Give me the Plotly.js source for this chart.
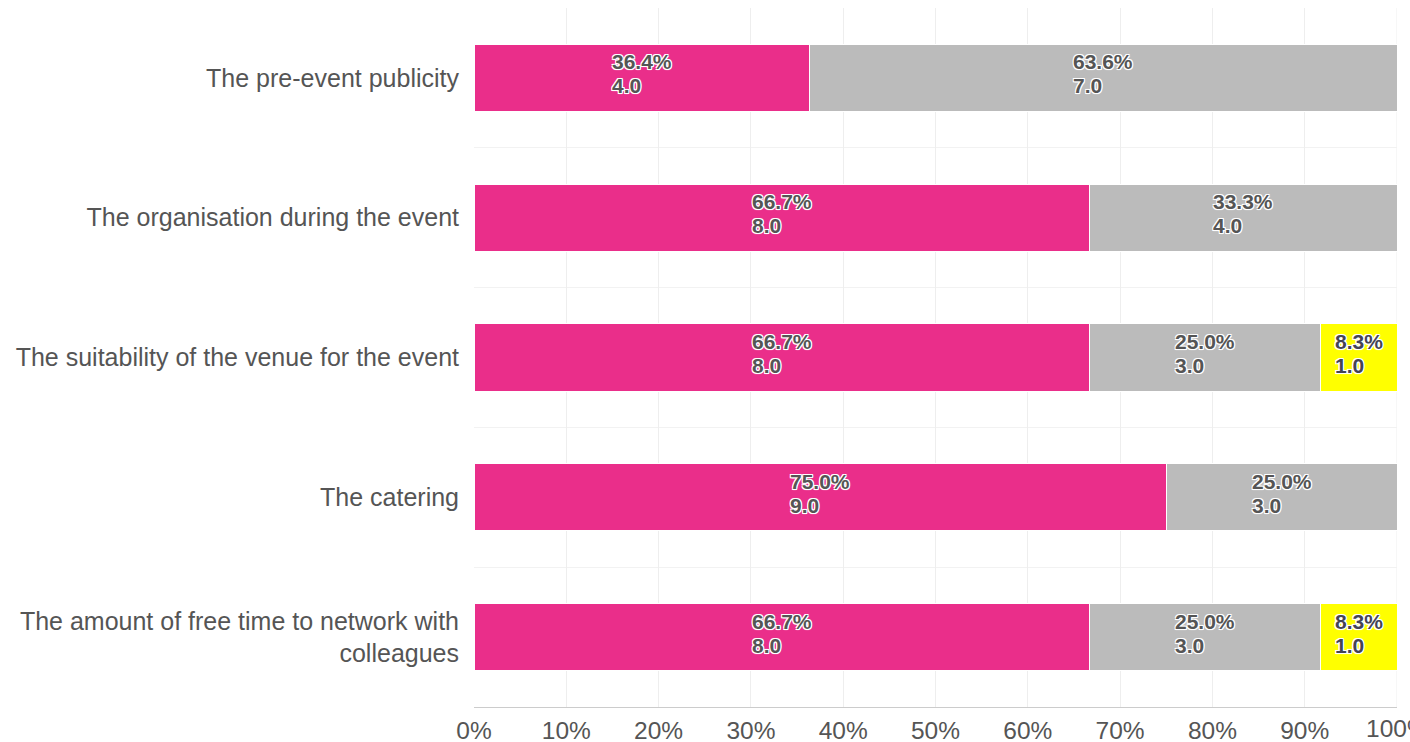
<!DOCTYPE html>
<html>
<head>
<meta charset="utf-8">
<script src="https://cdn.plot.ly/plotly-3.0.1.min.js"></script>
<style>html,body{margin:0;padding:0;background:#fff;}#chart{width:1410px;height:742px;}</style>
</head>
<body>
<div id="chart"></div>
<script>
const categories = [
  "The pre-event publicity",
  "The organisation during the event",
  "The suitability of the venue for the event",
  "The catering",
  "The amount of free time to network with<br>colleagues"
];
const seriesA = [4, 8, 8, 9, 8];
const seriesB = [7, 4, 3, 3, 3];
const seriesC = [0, 0, 1, 0, 1];
const xTickVals = [0, 10, 20, 30, 40, 50, 60, 70, 80, 90, 100];
const xTickText = ["0%", "10%", "20%", "30%", "40%", "50%", "60%", "70%", "80%", "90%", "100%"];

const colors = ["#EA2E8A", "#BBBBBB", "#FFFF00"];
const series = [seriesA, seriesB, seriesC];
const totals = categories.map((c, i) => seriesA[i] + seriesB[i] + seriesC[i]);
const idx = categories.map((c, i) => i);

const traces = [];
const annotations = [];
const cum = categories.map(() => 0);
series.forEach((vals, s) => {
  const pct = vals.map((v, i) => v / totals[i] * 100);
  traces.push({
    type: "bar",
    orientation: "h",
    y: idx,
    x: pct,
    width: 0.48,
    marker: { color: colors[s], line: { color: "#ffffff", width: 1 } },
    hoverinfo: "none",
    showlegend: false
  });
  pct.forEach((p, i) => {
    if (vals[i] > 0) {
      annotations.push({
        x: cum[i] + p / 2,
        y: i,
        xref: "x",
        yref: "y",
        text: '<span style="font-size:21px">' + p.toFixed(1) + '%</span><br><span style="font-size:21px">' + vals[i].toFixed(1) + '</span>',
        showarrow: false,
        align: "left",
        yshift: 4,
        font: {
          family: "Liberation Sans, Arial, sans-serif",
          size: 18.5,
          weight: "bold",
          color: s === 2 ? "#444455" : "#555555",
          shadow: "1px 1px 0 #fff, -1px -1px 0 #fff, 1px -1px 0 #fff, -1px 1px 0 #fff, 0 1px 1px #fff, 1px 0 1px #fff"
        }
      });
    }
    cum[i] += p;
  });
});

// last x tick label (partially cut by the page edge, as in the reference)
annotations.push({
  x: xTickVals[xTickVals.length - 1],
  y: 0,
  xref: "x",
  yref: "paper",
  yanchor: "top",
  xanchor: "center",
  yshift: -6,
  text: xTickText[xTickText.length - 1],
  showarrow: false,
  font: { family: "Liberation Sans, Arial, sans-serif", size: 24.5, color: "#555555" }
});

const layout = {
  width: 1410,
  height: 742,
  margin: { l: 474, r: 13, t: 8, b: 35 },
  barmode: "stack",
  paper_bgcolor: "#ffffff",
  plot_bgcolor: "#ffffff",
  font: { family: "Liberation Sans, Arial, sans-serif", color: "#555555" },
  xaxis: {
    range: [0, 100],
    tickvals: xTickVals.slice(0, -1),
    ticktext: xTickText.slice(0, -1),
    showgrid: true,
    gridcolor: "#eeeeee",
    gridwidth: 1,
    zeroline: false,
    showline: true,
    linecolor: "#cccccc",
    linewidth: 1,
    ticks: "",
    ticklabelstandoff: 2,
    tickfont: { size: 24.5, color: "#555555" },
    automargin: false,
    fixedrange: true
  },
  yaxis: {
    range: [4.5, -0.5],
    tickvals: idx,
    ticktext: categories,
    showgrid: false,
    zeroline: false,
    showline: false,
    ticks: "",
    ticklen: 0,
    ticklabelstandoff: 14,
    tickfont: { size: 25, color: "#555555" },
    minor: { tick0: 0.5, dtick: 1, showgrid: true, gridcolor: "#f2f2f2", gridwidth: 1, ticks: "" },
    automargin: false,
    fixedrange: true
  },
  shapes: [{
    type: "line", xref: "x", yref: "paper",
    x0: xTickVals[xTickVals.length - 1], x1: xTickVals[xTickVals.length - 1], y0: 0, y1: 1,
    line: { color: "#eeeeee", width: 1 }, layer: "below"
  }],
  annotations: annotations
};

Plotly.newPlot("chart", traces, layout, { displayModeBar: false, staticPlot: true });
</script>
</body>
</html>
